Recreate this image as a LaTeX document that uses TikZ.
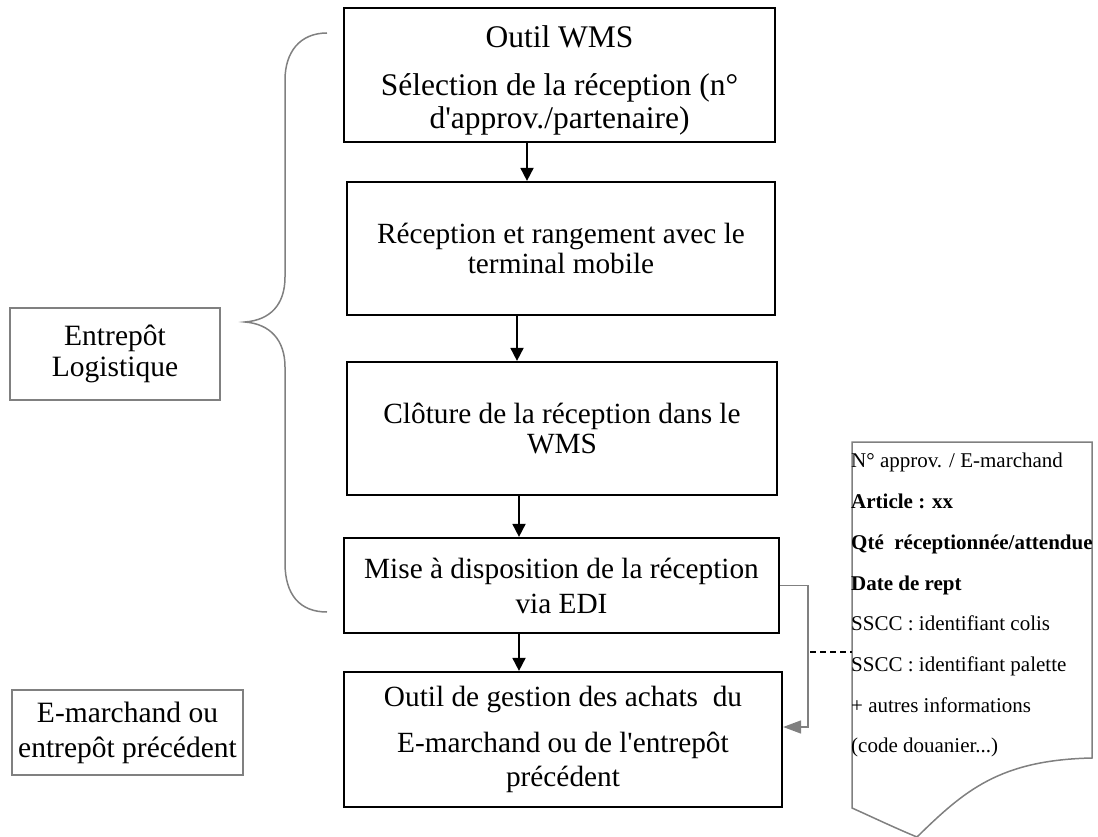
\documentclass[tikz,border=0pt]{standalone}
\usepackage{fontspec}
\setmainfont{Liberation Serif}
\usetikzlibrary{arrows.meta}
\definecolor{lgray}{HTML}{808080}
\tikzset{
  mainbox/.style={draw=black, line width=2.2pt, inner sep=0pt, align=center,
    font=\fontsize{29.3}{30}\selectfont},
  sidebox/.style={draw=lgray, line width=1.5pt, inner sep=0pt, align=center,
    font=\fontsize{29.5}{31}\selectfont},
  docline/.style={anchor=base west, inner sep=0pt, font=\fontsize{21}{24}\selectfont},
  arr/.style={line width=1.8pt, -{Triangle[length=13pt,width=13pt]}},
  garr/.style={draw=lgray, line width=1.5pt, -{Triangle[length=18pt,width=13pt]}},
}
\begin{document}
\begin{tikzpicture}[x=1pt,y=-1pt]
\useasboundingbox (0,0) rectangle (1098,837);

% main flow boxes
\node[mainbox, minimum width=431pt, minimum height=134pt, font=\fontsize{31.5}{33}\selectfont] (b1) at (559.5,75)
  {\rule{0pt}{33pt}Outil WMS\\[15pt]Sélection de la réception (n°\\d\textquotesingle approv./partenaire)};
\node[mainbox, minimum width=428pt, minimum height=133pt] (b2) at (561,248.5)
  {Réception et rangement avec le\\terminal mobile};
\node[mainbox, minimum width=430pt, minimum height=133pt] (b3) at (562,428.5)
  {Clôture de la réception dans le\\WMS};
\node[mainbox, minimum width=435pt, minimum height=95pt, font=\fontsize{29.3}{35}\selectfont] (b4) at (561.5,585.5)
  {Mise à disposition de la réception\\via EDI};
\node[mainbox, minimum width=438pt, minimum height=135pt, font=\fontsize{29.3}{34}\selectfont] (b5) at (563,739.5)
  {Outil de gestion des achats\ \ du\\[12pt]E-marchand ou de l\textquotesingle entrepôt\\précédent};

% side boxes
\node[sidebox, minimum width=210pt, minimum height=92pt] (ent) at (115,354)
  {Entrepôt\\Logistique};
\node[sidebox, minimum width=231pt, minimum height=85pt, font=\fontsize{29.5}{35}\selectfont] (emar) at (127.5,732.5)
  {E-marchand ou\\entrepôt précédent};

% arrows between boxes
\coordinate (x1) at (527,0);
\coordinate (x2) at (517,0);
\coordinate (x3) at (519,0);
\draw[arr] (b1.south -| x1) -- (b2.north -| x1);
\draw[arr] (b2.south -| x2) -- (b3.north -| x2);
\draw[arr] (b3.south -| x3) -- (b4.north -| x3);
\draw[arr] (b4.south -| x3) -- (b5.north -| x3);

% brace
\draw[draw=lgray, line width=1.5pt]
  (327,33) .. controls (300,33) and (285,52) .. (285,80) -- (285,277)
  .. controls (285,305) and (270,320) .. (245,322)
  .. controls (270,324) and (285,340) .. (285,367) -- (285,563)
  .. controls (285,595) and (300,612) .. (327,612);

% document shape
\draw[draw=lgray, line width=1.5pt]
  (852,442) -- (1092,442) -- (1092,758)
  .. controls (1000,760) and (965,790) .. (917,837)
  .. controls (895,828) and (870,816) .. (852,808) -- cycle;
\coordinate (docl) at (852,652);

\node[docline] (d1) at (851,467) {N° approv. / E-marchand};
\node[docline] (d2) at (851,508) {\bfseries Article : xx};
\node[docline] (d3) at (851,549) {\bfseries Qté\ \ réceptionnée/attendue};
\node[docline] (d4) at (851,590) {\bfseries Date de rept};
\node[docline] (d5) at (851,630) {SSCC : identifiant colis};
\node[docline] (d6) at (851,671) {SSCC : identifiant palette};
\node[docline] (d7) at (851,712) {+ autres informations};
\node[docline] (d8) at (851,752) {(code douanier...)};

% gray connector
\coordinate (c1) at (808,727);
\draw[garr] (b4.east) -| (c1) -- ([yshift=12.5pt]b5.east);

% dashed link
\coordinate (dl) at (810,652);
\draw[line width=2pt, dash pattern=on 6pt off 4pt] (dl) -- (docl);
\end{tikzpicture}
\end{document}
